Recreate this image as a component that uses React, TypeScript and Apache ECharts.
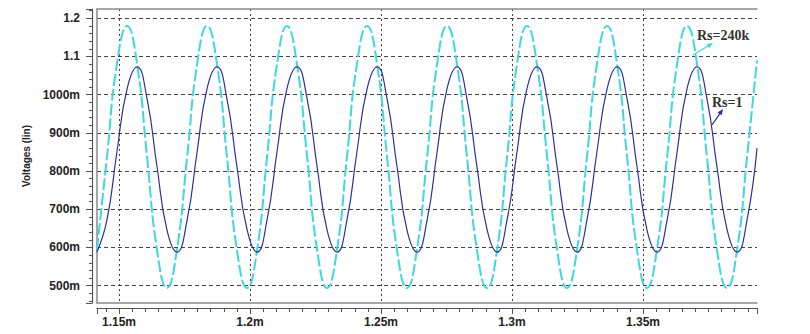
import React, { useEffect, useRef } from "react";
import * as echarts from "echarts";

// Time samples (ms, axis shows "m")
const timeMs = [
  1.1416, 1.1454, 1.1492, 1.1531, 1.1569, 1.1607, 1.1645, 1.1683,
  1.1721, 1.1760, 1.1798, 1.1836, 1.1874, 1.1912, 1.1950, 1.1989,
  1.2027, 1.2065, 1.2103, 1.2141, 1.2179, 1.2218, 1.2256, 1.2294,
  1.2332, 1.2370, 1.2408, 1.2447, 1.2485, 1.2523, 1.2561, 1.2599,
  1.2637, 1.2676, 1.2714, 1.2752, 1.2790, 1.2828, 1.2866, 1.2905,
  1.2943, 1.2981, 1.3019, 1.3057, 1.3095, 1.3134, 1.3172, 1.3210,
  1.3248, 1.3286, 1.3324, 1.3363, 1.3401, 1.3439, 1.3477, 1.3515,
  1.3553, 1.3592, 1.3630, 1.3668, 1.3706, 1.3744, 1.3782, 1.3821,
  1.3859, 1.3897, 1.3935,
];

// Rs=240k (cyan) voltages
const rs240k = [
  0.594, 0.837, 1.080, 1.180, 1.080, 0.837, 0.594, 0.494,
  0.594, 0.837, 1.080, 1.180, 1.080, 0.837, 0.594, 0.494,
  0.594, 0.837, 1.080, 1.180, 1.080, 0.837, 0.594, 0.494,
  0.594, 0.837, 1.080, 1.180, 1.080, 0.837, 0.594, 0.494,
  0.594, 0.837, 1.080, 1.180, 1.080, 0.837, 0.594, 0.494,
  0.594, 0.837, 1.080, 1.180, 1.080, 0.837, 0.594, 0.494,
  0.594, 0.837, 1.080, 1.180, 1.080, 0.837, 0.594, 0.494,
  0.594, 0.837, 1.080, 1.180, 1.080, 0.837, 0.594, 0.494,
  0.594, 0.837, 1.090,
];

// Rs=1 (navy) voltages
const rs1 = [
  0.588, 0.672, 0.850, 1.016, 1.073, 0.989, 0.812, 0.646,
  0.588, 0.672, 0.850, 1.016, 1.073, 0.989, 0.812, 0.646,
  0.588, 0.672, 0.850, 1.016, 1.073, 0.989, 0.812, 0.646,
  0.588, 0.672, 0.850, 1.016, 1.073, 0.989, 0.812, 0.646,
  0.588, 0.672, 0.850, 1.016, 1.073, 0.989, 0.812, 0.646,
  0.588, 0.672, 0.850, 1.016, 1.073, 0.989, 0.812, 0.646,
  0.588, 0.672, 0.850, 1.016, 1.073, 0.989, 0.812, 0.646,
  0.588, 0.672, 0.850, 1.016, 1.073, 0.989, 0.812, 0.646,
  0.588, 0.672, 0.860,
];

const X_MIN = 1.1416;
const X_MAX = 1.3935;
const Y_MIN = 0.4547;
const Y_MAX = 1.2243;

const CYAN = "#3fd8dc";
const NAVY = "#2f2f98";
const GRID_COLOR = "#444";
const FRAME_COLOR = "#8a8a8a";
const LABEL_FONT = "'Liberation Sans', Arial, sans-serif";
const SERIF = "'Liberation Serif', 'Times New Roman', serif";

function arrow(x1: number, y1: number, x2: number, y2: number, color: string) {
  const dx = x2 - x1;
  const dy = y2 - y1;
  const len = Math.sqrt(dx * dx + dy * dy);
  const ux = dx / len;
  const uy = dy / len;
  const nx = -uy;
  const ny = ux;
  const hl = 6;
  const hw = 2.5;
  return {
    type: "group",
    children: [
      {
        type: "line",
        shape: { x1, y1, x2: x2 - ux * 2, y2: y2 - uy * 2 },
        style: { stroke: color, lineWidth: 1.3 },
      },
      {
        type: "polygon",
        shape: {
          points: [
            [x2, y2],
            [x2 - ux * hl + nx * hw, y2 - uy * hl + ny * hw],
            [x2 - ux * hl - nx * hw, y2 - uy * hl - ny * hw],
          ],
        },
        style: { fill: color },
      },
    ],
  };
}

export default function App() {
  const ref = useRef<HTMLDivElement>(null);

  useEffect(() => {
    if (!ref.current) return;
    const chart = echarts.init(ref.current, undefined, { renderer: "svg" });

    const frameAxis = {
      min: X_MIN,
      max: X_MAX,
      type: "value",
      axisLine: { show: true, onZero: false, lineStyle: { color: FRAME_COLOR, width: 1.5 } },
      axisTick: { show: false },
      axisLabel: { show: false },
      splitLine: { show: false },
    };

    chart.setOption({
      animation: false,
      backgroundColor: "#ffffff",
      grid: {
        left: 97,
        right: 53,
        top: 9,
        bottom: 31,
        containLabel: false,
        outerBoundsMode: "none",
      },
      xAxis: [
        {
          type: "value",
          position: "bottom",
          offset: 5,
          min: X_MIN,
          max: X_MAX,
          splitNumber: 5,
          name: "Time (lin) (TIME)",
          nameLocation: "middle",
          nameGap: 21,
          nameTextStyle: {
            fontFamily: LABEL_FONT,
            fontWeight: "bold",
            fontSize: 12,
            color: "#222",
          },
          axisLine: { show: true, onZero: false, lineStyle: { color: "#555", width: 1.2 } },
          axisTick: { show: true, length: 6, lineStyle: { color: "#555" } },
          minorTick: { show: true, splitNumber: 10, length: 4, lineStyle: { color: "#555" } },
          axisLabel: {
            show: true,
            margin: 8,
            showMinLabel: false,
            showMaxLabel: false,
            fontFamily: LABEL_FONT,
            fontWeight: "bold",
            fontSize: 12,
            color: "#222",
            formatter: (v: number) => `${+v.toFixed(2)}m`,
          },
          splitLine: {
            show: true,
            showMinLine: false,
            showMaxLine: false,
            lineStyle: { color: GRID_COLOR, type: [2, 3], width: 1 },
          },
        },
        { ...frameAxis, position: "bottom", offset: 0 },
        { ...frameAxis, position: "top", offset: 0 },
      ],
      yAxis: [
        {
          type: "value",
          position: "left",
          offset: 5,
          min: Y_MIN,
          max: Y_MAX,
          splitNumber: 7,
          name: "Voltages (lin)",
          nameLocation: "middle",
          nameGap: 57,
          nameRotate: 90,
          nameTextStyle: {
            fontFamily: LABEL_FONT,
            fontWeight: "bold",
            fontSize: 10,
            color: "#222",
          },
          axisLine: { show: true, onZero: false, lineStyle: { color: "#555", width: 1.2 } },
          axisTick: { show: true, length: 6, lineStyle: { color: "#555" } },
          minorTick: { show: true, splitNumber: 5, length: 3, lineStyle: { color: "#555" } },
          axisLabel: {
            show: true,
            margin: 12,
            showMinLabel: false,
            showMaxLabel: false,
            fontFamily: LABEL_FONT,
            fontWeight: "bold",
            fontSize: 12,
            color: "#222",
            formatter: (v: number) =>
              v > 1.05 ? v.toFixed(1) : `${Math.round(v * 1000)}m`,
          },
          splitLine: {
            show: true,
            showMinLine: false,
            showMaxLine: false,
            lineStyle: { color: GRID_COLOR, type: [4, 3], width: 1 },
          },
        },
        {
          type: "value",
          position: "left",
          offset: 0,
          min: Y_MIN,
          max: Y_MAX,
          axisLine: { show: true, onZero: false, lineStyle: { color: FRAME_COLOR, width: 1.5 } },
          axisTick: { show: false },
          axisLabel: { show: false },
          splitLine: { show: false },
        },
      ],
      series: [
        {
          name: "Rs=240k",
          type: "line",
          xAxisIndex: 0,
          yAxisIndex: 0,
          smooth: true,
          symbol: "none",
          data: timeMs.map((t, i) => [t, rs240k[i]]),
          lineStyle: { color: CYAN, width: 2, type: [12, 3] },
          z: 3,
        },
        {
          name: "Rs=1",
          type: "line",
          xAxisIndex: 0,
          yAxisIndex: 0,
          smooth: true,
          symbol: "none",
          data: timeMs.map((t, i) => [t, rs1[i]]),
          lineStyle: { color: NAVY, width: 1.2 },
          z: 4,
        },
      ],
      graphic: [
        {
          type: "text",
          x: 697,
          y: 28,
          style: {
            text: "Rs=240k",
            fill: "#333",
            font: `bold 14px ${SERIF}`,
          },
          z: 10,
        },
        arrow(693, 55, 713, 43, CYAN),
        {
          type: "text",
          x: 712,
          y: 95,
          style: {
            text: "Rs=1",
            fill: "#333",
            font: `bold 14px ${SERIF}`,
          },
          z: 10,
        },
        arrow(712, 125, 723, 109, NAVY),
      ],
    });

    return () => {
      chart.dispose();
    };
  }, []);

  return (
    <div
      ref={ref}
      style={{ position: "fixed", left: 0, top: 0, width: 810, height: 334, background: "#fff" }}
    />
  );
}
